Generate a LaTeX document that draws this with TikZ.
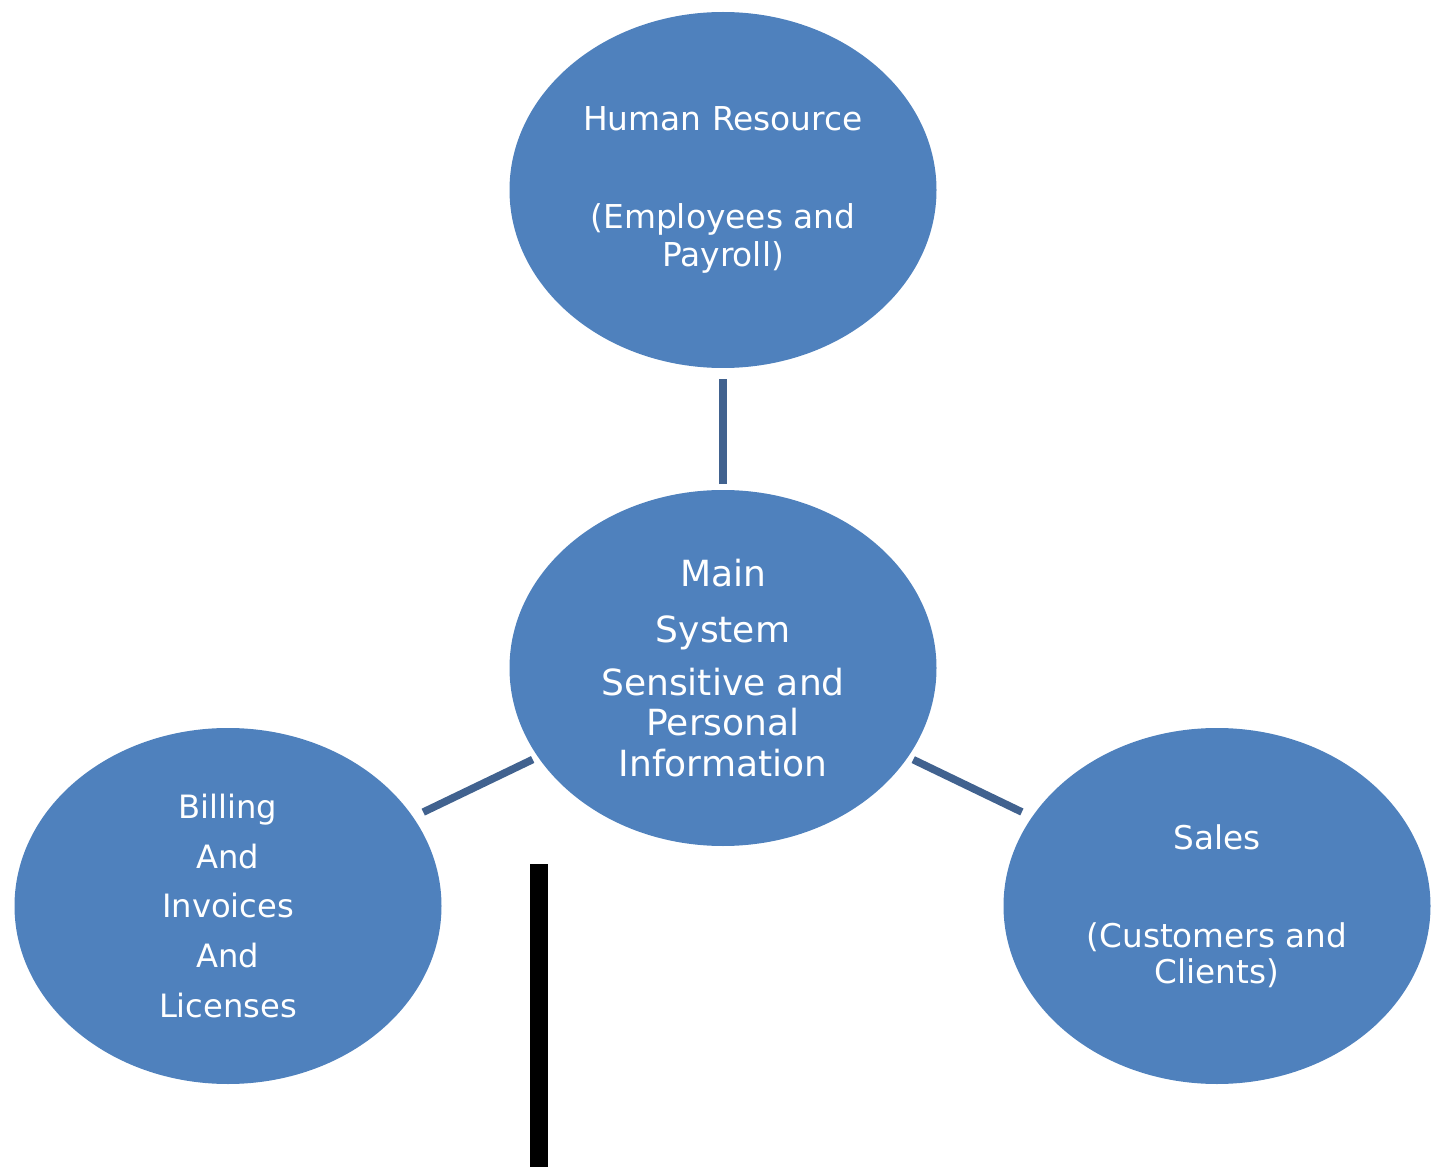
\documentclass[tikz,border=0pt]{standalone}
\usepackage{fontspec}
\setmainfont{DejaVu Sans}
\usepackage{xcolor}
\usetikzlibrary{shapes,positioning}
\definecolor{bubblefill}{HTML}{4F81BD}
\definecolor{linkcol}{HTML}{41628F}

\begin{document}
\begin{tikzpicture}[
  bubble/.style={ellipse, fill=bubblefill, text=white, align=center, inner sep=0pt, outer sep=0pt, minimum width=8.54cm, minimum height=7.12cm},
  link/.style={draw=linkcol, line width=4.3pt, shorten <=3.4pt, shorten >=6.5pt}
]
\useasboundingbox (0,0) rectangle (28.66,-23.36);

\coordinate(O1) at (14.46,-13.36);
\node[bubble, font=\fontsize{20.5}{23}\selectfont](main) at (O1) {Main\\[9pt] System\\[7pt] Sensitive and\\ Personal\\ Information};

\node[bubble, above=2.44cm of main, font=\fontsize{18.7}{21.5}\selectfont](hr) {Human Resource\\[34pt] (Employees and\\ Payroll)};

\coordinate(O2) at (4.56,-18.12);
\node[bubble, font=\fontsize{18.3}{28.3}\selectfont](billing) at (O2) {Billing\\ And\\ Invoices\\ And\\ Licenses};

\coordinate(O3) at (24.34,-18.12);
\node[bubble, font=\fontsize{18.6}{20}\selectfont](sales) at (O3) {Sales\\[36pt] (Customers and\\ Clients)};

\draw[link] (main) -- (hr);
\draw[link] (main) -- (billing);
\draw[link] (main) -- (sales);

\coordinate(barTop) at (10.78,-17.28);
\coordinate(barBot) at (10.78,-23.34);
\draw[line width=10.2pt] (barTop) -- (barBot);
\end{tikzpicture}
\end{document}
